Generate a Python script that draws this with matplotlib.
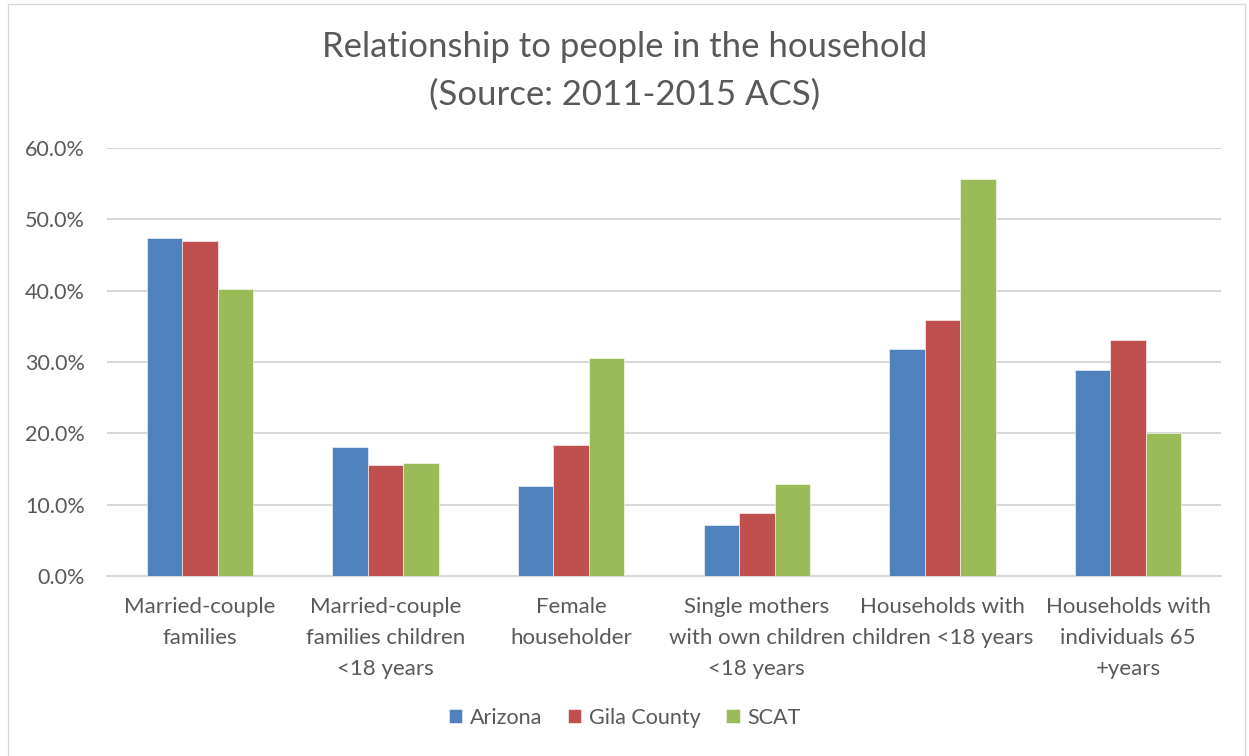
import matplotlib.pyplot as plt
import numpy as np
from matplotlib.patches import Rectangle
from matplotlib.ticker import PercentFormatter

categories = ["Married-couple\nfamilies", "Married-couple\nfamilies children\n<18 years",
              "Female\nhouseholder", "Single mothers\nwith own children\n<18 years",
              "Households with\nchildren <18 years", "Households with\nindividuals 65\n+years"]
arizona = [47.4, 18.1, 12.6, 7.1, 31.8, 28.9]
gila = [46.9, 15.5, 18.4, 8.8, 35.9, 33.1]
scat = [40.2, 15.8, 30.5, 12.9, 55.6, 20.0]
series = ["Arizona", "Gila County", "SCAT"]
colors = ["#4F81BD", "#C0504D", "#9BBB59"]

plt.rcParams['font.family'] = ['Lato', 'DejaVu Sans']
text_color = "#595959"

fig = plt.figure(figsize=(12.49, 7.56), dpi=100)
ax = fig.add_axes([107/1249, 1 - 576/756, (1221-107)/1249, (576-148)/756])

x = np.arange(len(categories))
w = 0.191
for i, (vals, name, c) in enumerate(zip([arizona, gila, scat], series, colors)):
  ax.bar(x + (i - 1) * w, vals, w, color=c, label=name, edgecolor="white", linewidth=0.4, zorder=3)

ax.set_xlim(-0.5, len(categories) - 0.5)
ax.set_ylim(0, 60)
ax.set_yticks(np.arange(0, 61, 10))
ax.yaxis.set_major_formatter(PercentFormatter(decimals=1))
ax.grid(axis="y", color="#D9D9D9", linewidth=1.5, zorder=0)
for s in ["top", "right", "left"]:
  ax.spines[s].set_visible(False)
ax.spines["bottom"].set_color("#D9D9D9")
ax.spines["bottom"].set_linewidth(1.5)
ax.set_xticks(x)
ax.set_xticklabels(categories, fontsize=16, color=text_color, linespacing=1.68)
ax.tick_params(axis="x", length=0, pad=15)
ax.tick_params(axis="y", length=0, pad=16, labelsize=15.5, labelcolor=text_color)

fig.text(0.5, 1 - 47/756, "Relationship to people in the household", ha="center", va="center",
         fontsize=25, color=text_color)
fig.text(0.5, 1 - 95/756, "(Source: 2011-2015 ACS)", ha="center", va="center",
         fontsize=25, color=text_color)

fig.legend(loc="center", bbox_to_anchor=(0.5, 1 - 718/756), ncol=3, frameon=False,
           fontsize=15.5, labelcolor=text_color, handlelength=0.62, handleheight=0.62,
           handletextpad=0.35, columnspacing=1.2)

fig.patches.append(Rectangle((8/1249, -0.01), 1237/1249, 1.01 - 4/756, transform=fig.transFigure,
                             fill=False, edgecolor="#D9D9D9", linewidth=1))

fig.savefig("out.png", dpi=100)
